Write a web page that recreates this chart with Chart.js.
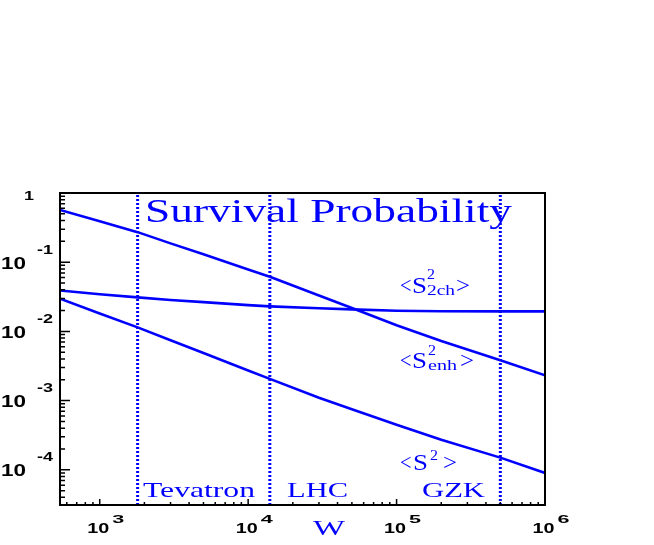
<!doctype html>
<html lang="en">
  <head>
    <meta charset="utf-8">
    <title>Survival Probability</title>
    <style>
      * { margin: 0; padding: 0; }
      body { background: white; }
      #chart { display: block; }
    </style>
  </head>
  <body>
    <canvas id="chart" width="654" height="545"></canvas>
    <script src="https://cdn.jsdelivr.net/npm/chart.js/dist/chart.umd.min.js"></script>
    <script>
    // data (W in GeV)
    const energies = [540, 1000, 1800, 3000, 5000, 1e4, 1.4e4, 3e4, 5e4, 1e5, 2e5, 5e5, 1e6];
    const enh = [0.570, 0.391, 0.272, 0.187, 0.130, 0.0785, 0.0616, 0.0331, 0.0218, 0.0123, 0.00727, 0.00382, 0.00232];
    const twoCh = [0.0391, 0.0344, 0.0310, 0.0285, 0.0265, 0.0240, 0.0230, 0.0216, 0.0208, 0.0199, 0.0196, 0.0195, 0.0195];
    const s2 = [0.0297, 0.0181, 0.01143, 0.00744, 0.00486, 0.00273, 0.00206, 0.00110, 0.00075, 0.000448, 0.000271, 0.000150, 0.00009];

    const machines = ['Tevatron', 'LHC', 'GZK'];
    const machineW = [1800, 14000, 500000];

    const xTicks = [1e3, 1e4, 1e5, 1e6];
    const xTickExp = ['3', '4', '5', '6'];
    const yTicks = [1, 1e-1, 1e-2, 1e-3, 1e-4];
    const yTickExp = ['', '-1', '-2', '-3', '-4'];

    const xMin = 540, xMax = 1e6, yMin = 3.1e-5, yMax = 1;
    const blue = 'rgb(0,0,255)';

    const pts = ys => energies.map((x, i) => ({ x: x, y: ys[i] }));

    const datasets = [
      { data: pts(enh), borderColor: blue, borderWidth: 2.6 },
      { data: pts(twoCh), borderColor: blue, borderWidth: 2.6 },
      { data: pts(s2), borderColor: blue, borderWidth: 2.6 }
    ];
    machineW.forEach(w => {
      datasets.push({
        data: [{ x: w, y: yMin }, { x: w, y: yMax }],
        borderColor: blue, borderWidth: 3, borderDash: [2, 2]
      });
    });

    // text squeezed/stretched to the width seen in the picture
    function fitText(ctx, txt, x, y, font, w) {
      ctx.font = font;
      const m = ctx.measureText(txt).width;
      ctx.save();
      ctx.translate(x, y);
      ctx.scale(w / m, 1);
      ctx.textAlign = 'left';
      ctx.textBaseline = 'alphabetic';
      ctx.fillText(txt, 0, 0);
      ctx.restore();
    }

    const frame = {
      id: 'frame',
      afterDraw(chart) {
        const ctx = chart.ctx;
        const a = chart.chartArea;
        const xs = chart.scales.x, ys = chart.scales.y;
        ctx.save();
        ctx.strokeStyle = 'black';
        ctx.fillStyle = 'black';
        ctx.lineWidth = 2;
        ctx.strokeRect(a.left, a.top, a.right - a.left, a.bottom - a.top);

        // y ticks
        ctx.lineWidth = 1.5;
        ctx.beginPath();
        for (let k = -5; k <= 0; k++) {
          for (let m = 1; m <= 9; m++) {
            const v = m * Math.pow(10, k);
            if (v < yMin || v > yMax) continue;
            const py = ys.getPixelForValue(v);
            const len = m === 1 ? 10 : 5;
            ctx.moveTo(a.left, py);
            ctx.lineTo(a.left + len, py);
          }
        }
        // x ticks
        for (let k = 2; k <= 6; k++) {
          for (let m = 1; m <= 9; m++) {
            const v = m * Math.pow(10, k);
            if (v < xMin || v > xMax) continue;
            const px = xs.getPixelForValue(v);
            const len = m === 1 ? 6 : 3;
            ctx.moveTo(px, a.bottom);
            ctx.lineTo(px, a.bottom - len);
          }
        }
        ctx.stroke();

        // y labels
        yTicks.forEach((v, i) => {
          const py = ys.getPixelForValue(v);
          if (yTickExp[i] === '') {
            fitText(ctx, '1', 24, py + 6.5, 'bold 13px "Liberation Sans"', 10);
          } else {
            fitText(ctx, '10', 1, py + 6.5, 'bold 17px "Liberation Sans"', 25);
            fitText(ctx, yTickExp[i], 37, py - 8.4, 'bold 12px "Liberation Sans"', 16);
          }
        });
        // x labels
        xTicks.forEach((v, i) => {
          const px = xs.getPixelForValue(v);
          fitText(ctx, '10', px - 12.5, 533, 'bold 15px "Liberation Sans"', 22);
          fitText(ctx, xTickExp[i], px + 12.5, 523, 'bold 11px "Liberation Sans"', 12);
        });

        // blue texts
        ctx.fillStyle = blue;
        const serif = s => s + 'px "Liberation Serif"';
        fitText(ctx, 'Survival Probability', 145, 222, serif(33), 367);
        fitText(ctx, machines[0], 143, 497, serif(21), 112);
        fitText(ctx, machines[1], 287, 497, serif(21), 61);
        fitText(ctx, machines[2], 422, 497, serif(21), 63);
        fitText(ctx, 'W', 313, 535, serif(22), 32);

        // <S^2_2ch>
        fitText(ctx, '<', 400, 293, serif(23), 11.5);
        fitText(ctx, 'S', 412, 293, serif(23), 15);
        fitText(ctx, '2', 427, 279, serif(14), 8);
        fitText(ctx, '2ch', 427, 294.5, serif(14), 28);
        fitText(ctx, '>', 456, 293, serif(23), 14);
        // <S^2_enh>
        fitText(ctx, '<', 400, 368, serif(23), 11.5);
        fitText(ctx, 'S', 412, 368, serif(23), 15);
        fitText(ctx, '2', 428, 355, serif(14), 8);
        fitText(ctx, 'enh', 428, 370, serif(14), 29);
        fitText(ctx, '>', 460, 368, serif(23), 14);
        // <S^2>
        fitText(ctx, '<', 400, 470, serif(23), 11.5);
        fitText(ctx, 'S', 413, 470, serif(23), 15);
        fitText(ctx, '2', 430, 460, serif(14), 8);
        fitText(ctx, '>', 443, 470, serif(23), 14);
        ctx.restore();
      }
    };

    const myChart = new Chart(document.getElementById('chart'), {
      type: 'line',
      data: { datasets },
      options: {
        responsive: false,
        animation: false,
        devicePixelRatio: 1,
        layout: { padding: { left: 60, top: 193, right: 109, bottom: 40 } },
        elements: { point: { radius: 0 }, line: { tension: 0 } },
        plugins: { legend: { display: false }, tooltip: { enabled: false } },
        scales: {
          x: { type: 'logarithmic', min: xMin, max: xMax, display: false },
          y: { type: 'logarithmic', min: yMin, max: yMax, display: false }
        }
      },
      plugins: [frame]
    });
    </script>
  </body>
</html>
